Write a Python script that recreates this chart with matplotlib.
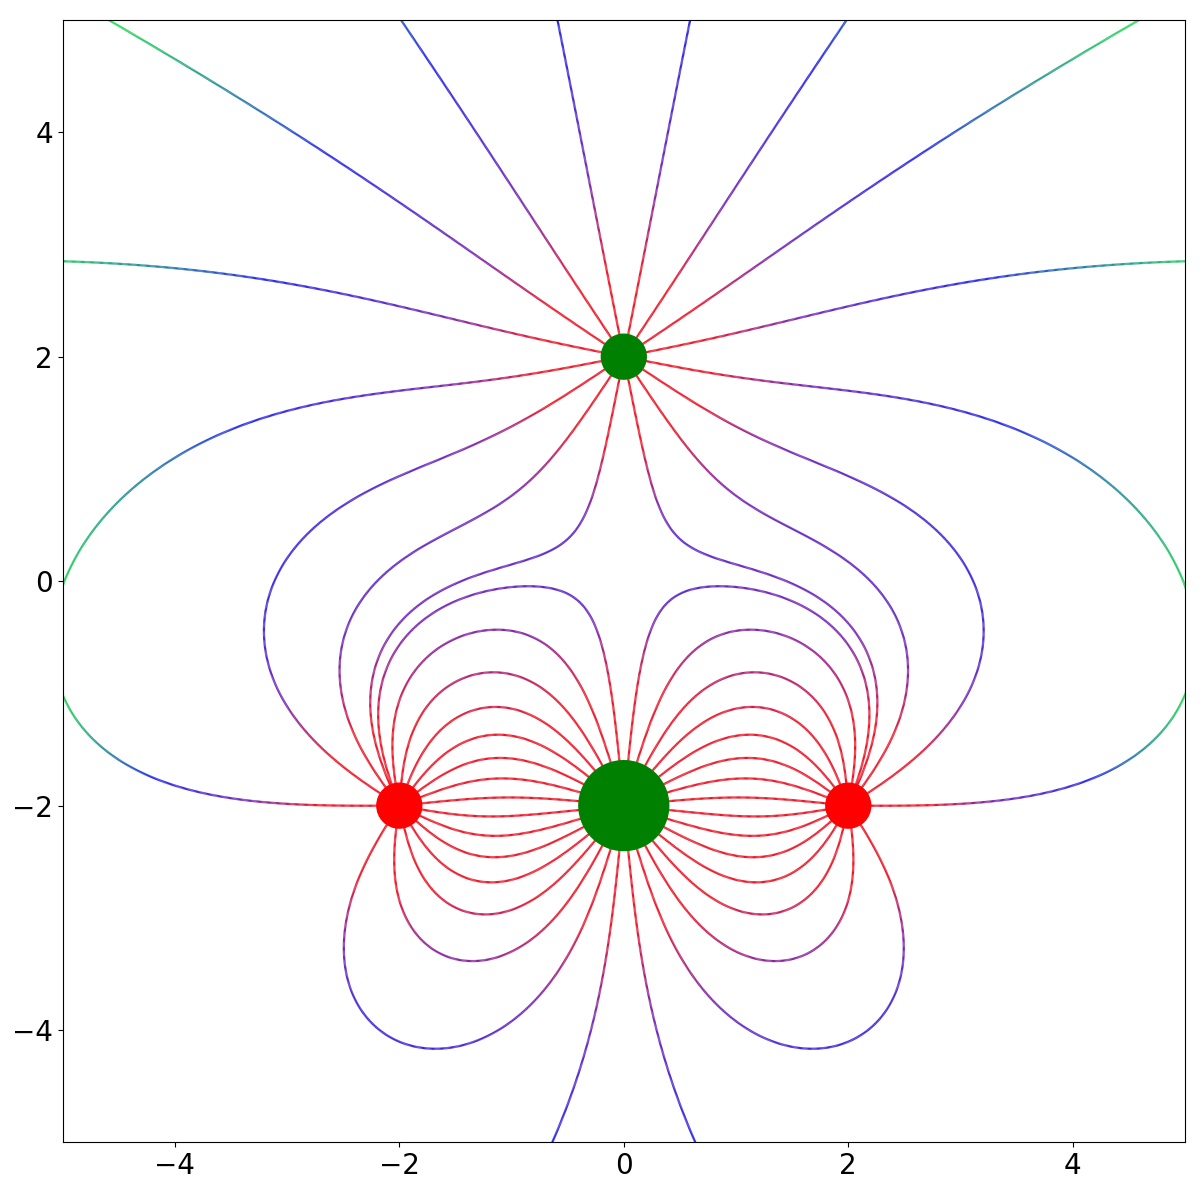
import numpy as np
import matplotlib
matplotlib.use("Agg")
import matplotlib.pyplot as plt
from matplotlib.collections import LineCollection
from matplotlib.colors import LinearSegmentedColormap, Normalize

# charges: position, charge, colour
charge_x = [-2.0, 2.0, 0.0, 0.0]
charge_y = [-2.0, -2.0, 2.0, -2.0]
charge_q = [1.0, 1.0, -1.0, -2.0]
charge_c = ["red", "red", "green", "green"]

lines_per_unit = 16
lim = 5
far = 9  # tracing goes on outside the view so lines can come back in


def efield(x, y):
    ex, ey = 0.0, 0.0
    for cx, cy, q in zip(charge_x, charge_y, charge_q):
        dx, dy = x - cx, y - cy
        r3 = (dx * dx + dy * dy) ** 1.5
        ex += q * dx / r3
        ey += q * dy / r3
    return ex, ey


def direction(x, y, s):
    ex, ey = efield(x, y)
    n = np.hypot(ex, ey)
    return s * ex / n, s * ey / n


def trace(x, y, s, ds=0.01, nmax=8000):
    xs, ys = [x], [y]
    for _ in range(nmax):
        k1 = direction(x, y, s)
        k2 = direction(x + 0.5 * ds * k1[0], y + 0.5 * ds * k1[1], s)
        k3 = direction(x + 0.5 * ds * k2[0], y + 0.5 * ds * k2[1], s)
        k4 = direction(x + ds * k3[0], y + ds * k3[1], s)
        x += ds / 6 * (k1[0] + 2 * k2[0] + 2 * k3[0] + k4[0])
        y += ds / 6 * (k1[1] + 2 * k2[1] + 2 * k3[1] + k4[1])
        xs.append(x)
        ys.append(y)
        if abs(x) > far or abs(y) > far:
            break
        hit = False
        for cx, cy, q in zip(charge_x, charge_y, charge_q):
            if np.hypot(x - cx, y - cy) < 0.1 * abs(q):
                hit = True
        if hit:
            break
    return np.array(xs), np.array(ys)


# weak field -> green, then blue, purple, strong field -> red
cmap = LinearSegmentedColormap.from_list(
    "field", [(0.0, "#22ee44"), (0.3, "#2222ee"), (0.65, "#7722b0"), (1.0, "#ee1122")])
norm = Normalize(vmin=-1.5, vmax=0.2)

fig, ax = plt.subplots(figsize=(12, 12), dpi=100)

# lines start on the negative charges and run back along -E
for cx, cy, q in zip(charge_x, charge_y, charge_q):
    if q > 0:
        continue
    n = int(lines_per_unit * abs(q))
    r0 = 0.2 * abs(q)
    for k in range(n):
        a = 2 * np.pi * (k + 0.5) / n
        xs, ys = trace(cx + r0 * np.cos(a), cy + r0 * np.sin(a), -1)
        pts = np.column_stack([xs, ys]).reshape(-1, 1, 2)
        segs = np.concatenate([pts[:-1], pts[1:]], axis=1)
        ex, ey = efield(0.5 * (xs[:-1] + xs[1:]), 0.5 * (ys[:-1] + ys[1:]))
        lc = LineCollection(segs, cmap=cmap, norm=norm, linewidth=1.6)
        lc.set_array(np.log10(np.hypot(ex, ey)))
        ax.add_collection(lc)

for cx, cy, q, c in zip(charge_x, charge_y, charge_q, charge_c):
    ax.add_patch(plt.Circle((cx, cy), 0.2 * abs(q), color=c, zorder=10))

ax.set_xlim(-lim, lim)
ax.set_ylim(-lim, lim)
ax.set_aspect("equal")
ax.tick_params(labelsize=20)
plt.tight_layout()
plt.savefig("out.png")
